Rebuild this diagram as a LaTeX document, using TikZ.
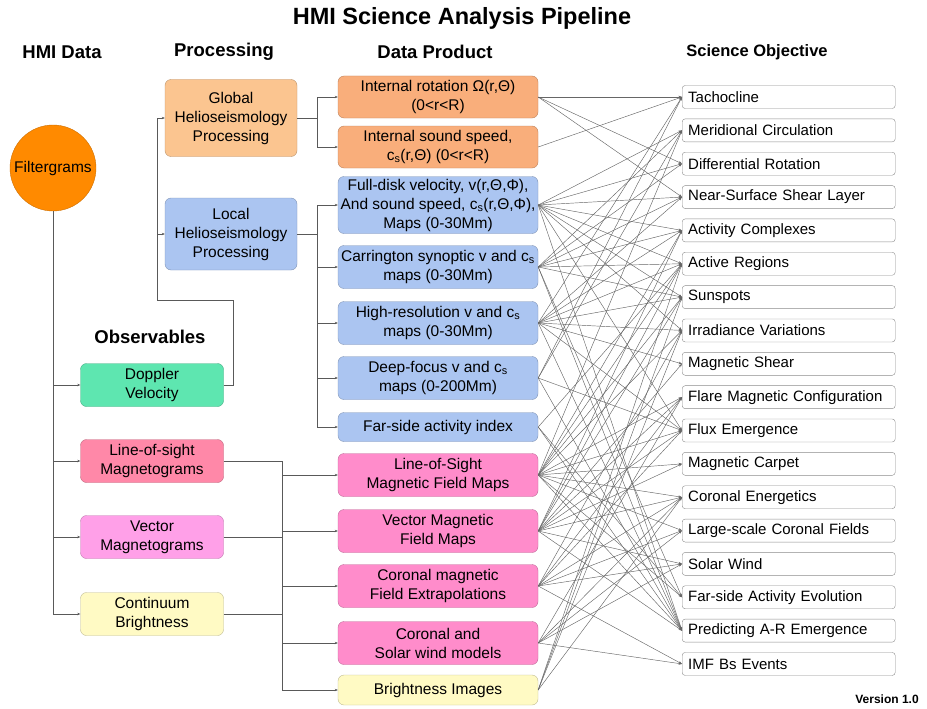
\documentclass[tikz,border=0pt]{standalone}
\usepackage{fontspec}
\setmainfont{Liberation Sans}
\usetikzlibrary{arrows.meta}
\definecolor{filc}{HTML}{FF8A00}
\definecolor{globc}{HTML}{FBC590}
\definecolor{dorange}{HTML}{F9AE7B}
\definecolor{bluec}{HTML}{ABC5F1}
\definecolor{greenc}{HTML}{5EE6B0}
\definecolor{losc}{HTML}{FF88A8}
\definecolor{vecc}{HTML}{FFA0E8}
\definecolor{yelc}{HTML}{FFFAC4}
\definecolor{pinkc}{HTML}{FF8CCB}
\begin{document}
\begin{tikzpicture}[x=1pt,y=-1pt,
  txt/.style={font=\fontsize{15.5}{19}\selectfont},
  hdr/.style={font=\bfseries\fontsize{18.5}{22}\selectfont},
  box/.style={draw=#1!75!black, fill=#1, rounded corners=6pt, align=center, inner sep=1pt, txt},
  proc/.style={box=#1, minimum width=132},
  obs/.style={box=#1, minimum width=143, minimum height=43},
  dp/.style={box=#1, minimum width=200},
  obj/.style={draw=black!45, fill=white, rounded corners=3pt, anchor=west, align=left,
    inner xsep=6pt, inner ysep=1pt, text width=201pt, minimum height=23,
    font=\fontsize{15}{18}\selectfont},
  tree/.style={draw=black!65, line width=0.6pt},
  treearr/.style={tree, -{Stealth[length=3pt,width=2.5pt]}},
  link/.style={draw=black!60, line width=0.45pt, -{Stealth[length=3.5pt,width=2.6pt]}}
]
\useasboundingbox (0,0) rectangle (927,709);

% titles
\node[font=\bfseries\fontsize{23.5}{28}\selectfont] (title) at (462,18) {HMI Science Analysis Pipeline};
\node[hdr] (h1) at (62,52) {HMI Data};
\node[hdr] (h2) at (224,52) {Processing};
\node[hdr] (h3) at (435,52) {Data Product};
\node[hdr, font=\bfseries\fontsize{16.5}{20}\selectfont] (h4) at (757,52) {Science Objective};
\node[hdr] (h5) at (150,337) {Observables};
\node[font=\bfseries\fontsize{12}{14}\selectfont] (ver) at (887,699) {Version 1.0};

% HMI data
\node[circle, fill=filc, draw=filc!80!black, minimum size=86, inner sep=0pt, txt] (fil) at (53,168) {Filtergrams};

% processing
\node[proc=globc, minimum height=77] (glob) at (231,118) {Global\\Helioseismology\\Processing};
\node[proc=bluec, minimum height=72] (loc) at (231,234) {Local\\Helioseismology\\Processing};

% observables
\node[obs=greenc] (dop) at (152,385) {Doppler\\Velocity};
\node[obs=losc] (los) at (152,461) {Line-of-sight\\Magnetograms};
\node[obs=vecc] (vec) at (152,537) {Vector\\Magnetograms};
\node[obs=yelc] (con) at (152,614) {Continuum\\Brightness};

% data products
\node[dp=dorange, minimum height=42] (d1) at (438,97) {Internal rotation Ω(r,Θ)\\(0<r<R)};
\node[dp=dorange, minimum height=42] (d2) at (438,147) {Internal sound speed,\\c\textsubscript{s}(r,Θ) (0<r<R)};
\node[dp=bluec, minimum height=57] (d3) at (438,205) {Full-disk velocity, v(r,Θ,Φ),\\And sound speed, c\textsubscript{s}(r,Θ,Φ),\\Maps (0-30Mm)};
\node[dp=bluec, minimum height=43] (d4) at (438,267) {Carrington synoptic v and c\textsubscript{s}\\maps (0-30Mm)};
\node[dp=bluec, minimum height=43] (d5) at (438,323) {High-resolution v and c\textsubscript{s}\\maps (0-30Mm)};
\node[dp=bluec, minimum height=43] (d6) at (438,378) {Deep-focus v and c\textsubscript{s}\\maps (0-200Mm)};
\node[dp=bluec, minimum height=29] (d7) at (438,427) {Far-side activity index};
\node[dp=pinkc, minimum height=43] (d8) at (438,475) {Line-of-Sight\\Magnetic Field Maps};
\node[dp=pinkc, minimum height=43] (d9) at (438,531) {Vector Magnetic\\Field Maps};
\node[dp=pinkc, minimum height=43] (d10) at (438,586) {Coronal magnetic\\Field Extrapolations};
\node[dp=pinkc, minimum height=43] (d11) at (438,643) {Coronal and\\Solar wind models};
\node[dp=yelc, minimum height=30] (d12) at (438,690) {Brightness Images};

% science objectives
\foreach \i/\t in {1/Tachocline, 2/Meridional Circulation, 3/Differential Rotation,
  4/Near-Surface Shear Layer, 5/Activity Complexes, 6/Active Regions, 7/Sunspots,
  8/Irradiance Variations, 9/Magnetic Shear, 10/Flare Magnetic Configuration,
  11/Flux Emergence, 12/Magnetic Carpet, 13/Coronal Energetics,
  14/Large-scale Coronal Fields, 15/Solar Wind, 16/Far-side Activity Evolution,
  17/Predicting A-R Emergence, 18/IMF Bs Events}
  \node[obj] (s\i) at (682,{97+(\i-1)*33.35}) {\t};

% tree connectors
\foreach \o in {dop,los,vec,con} \draw[treearr] (fil.south) |- (\o.west);
\coordinate (dpt) at (233,300);
\coordinate (dj) at (157,300);
\draw[treearr] (dop.east) -| (dpt) -- (dj) |- (glob.west);
\draw[treearr] (dj) |- (loc.west);
\coordinate (gj) at (317,118);
\draw[tree] (glob.east) -- (gj);
\draw[treearr] (gj) |- (d1.west);
\draw[treearr] (gj) |- (d2.west);
\coordinate (lj) at (317,234);
\draw[tree] (loc.east) -- (lj);
\foreach \d in {d3,d4,d5,d6,d7} \draw[treearr] (lj) |- (\d.west);
\coordinate (mj) at (282,461);
\draw[tree] (los.east) -- (mj);
\draw[tree] (vec.east) -- (vec.east -| mj);
\draw[tree] (con.east) -- (con.east -| mj);
\foreach \d in {d8,d9,d10,d11,d12} \draw[treearr] (mj) |- (\d.west);

% many-to-many links
\foreach \a/\b in {1/1,1/3,1/4,
  2/1,
  3/2,3/3,3/4,3/5,3/6,3/7,3/8,3/11,3/17,
  4/2,4/3,4/4,4/5,4/6,4/7,4/16,4/17,
  5/1,5/4,5/5,5/6,5/7,5/8,5/9,5/11,5/17,
  6/1,6/2,6/11,6/17,
  7/6,7/16,7/17,
  8/2,8/5,8/6,8/7,8/8,8/10,8/11,8/12,8/13,8/14,8/16,8/17,
  9/5,9/6,9/7,9/9,9/10,9/11,9/12,9/13,9/15,9/17,
  10/8,10/10,10/11,10/13,10/14,10/15,10/18,
  11/10,11/13,11/14,11/15,11/18,
  12/6,12/7,12/8,12/13}
  \draw[link] (d\a.east) -- (s\b.west);
\end{tikzpicture}
\end{document}
